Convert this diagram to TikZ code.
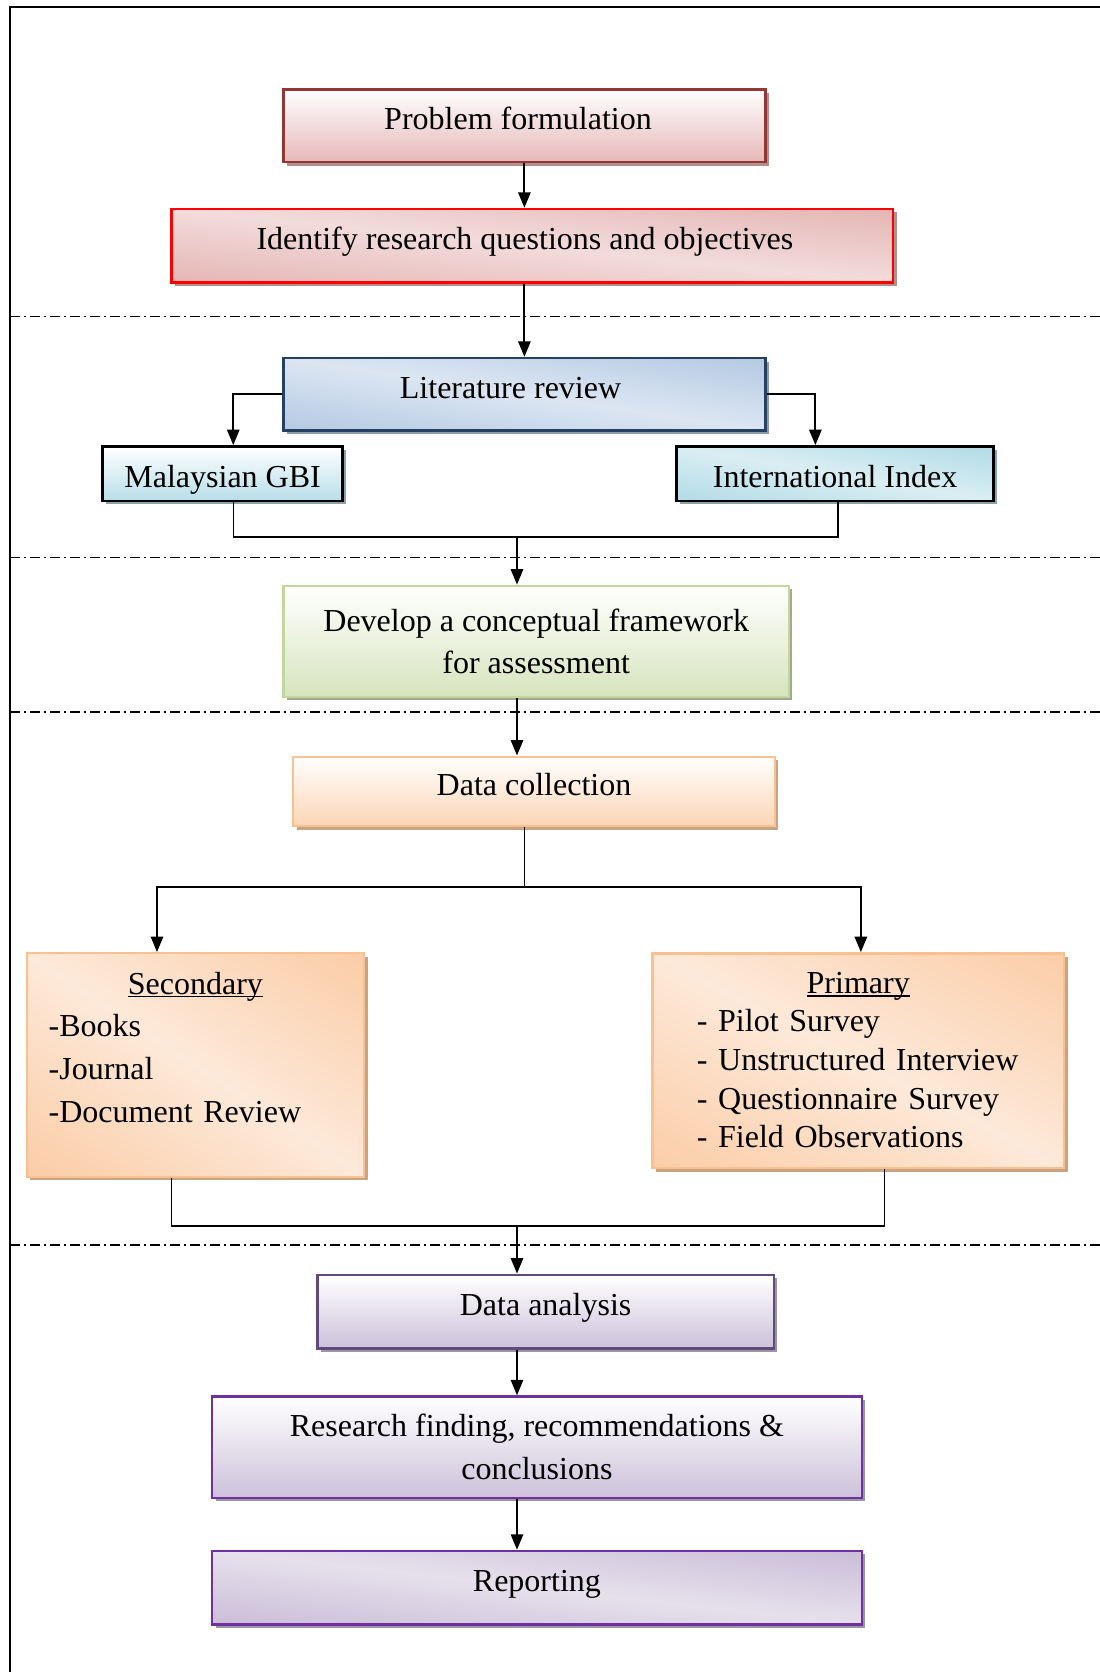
\documentclass[tikz,border=0pt]{standalone}
\usepackage{fontspec}
\setmainfont{Liberation Serif}
\usetikzlibrary{arrows.meta,shadows}
\definecolor{pfred}{HTML}{943634}
\definecolor{pfpink}{HTML}{E5B8B7}
\definecolor{pfshd}{HTML}{B38E8D}
\definecolor{rqred}{HTML}{FF0000}
\definecolor{rqdark}{HTML}{D99694}
\definecolor{rqlight}{HTML}{F2DCDB}
\definecolor{lrblue}{HTML}{254061}
\definecolor{lrdark}{HTML}{95B3D7}
\definecolor{lrlight}{HTML}{DCE6F2}
\definecolor{lrshd}{HTML}{8C9AAB}
\definecolor{ixpale}{HTML}{B7DEE8}
\definecolor{ixdark}{HTML}{93CDDD}
\definecolor{ixlight}{HTML}{DAEEF3}
\definecolor{ixshd}{HTML}{8CA2A9}
\definecolor{cfgreen}{HTML}{C3D69B}
\definecolor{cfpale}{HTML}{D7E4BD}
\definecolor{cfshd}{HTML}{A3A98F}
\definecolor{dcorange}{HTML}{FAC090}
\definecolor{dcpale}{HTML}{FCD5B5}
\definecolor{dclight}{HTML}{FDE9D9}
\definecolor{dcshd}{HTML}{C9A483}
\definecolor{dagrey}{HTML}{604A7B}
\definecolor{dapurple}{HTML}{7030A0}
\definecolor{dapale}{HTML}{CCC1DA}
\definecolor{dadark}{HTML}{B3A2C7}
\definecolor{dalight}{HTML}{E6E0EC}
\definecolor{dashd}{HTML}{9B95A2}
% diagonal two-tone fills
\pgfdeclareverticalshading{rqdiag}{100bp}{color(0bp)=(rqdark); color(50bp)=(rqlight); color(100bp)=(rqdark)}
\pgfdeclareverticalshading{lrdiag}{100bp}{color(0bp)=(lrdark); color(50bp)=(lrlight); color(100bp)=(lrdark)}
\pgfdeclareverticalshading{ixdiag}{100bp}{color(0bp)=(ixdark); color(50bp)=(ixlight); color(100bp)=(ixdark)}
\pgfdeclareverticalshading{dcdiag}{100bp}{color(0bp)=(dcorange); color(50bp)=(dclight); color(100bp)=(dcorange)}
\pgfdeclareverticalshading{dadiag}{100bp}{color(0bp)=(dadark); color(50bp)=(dalight); color(100bp)=(dadark)}
\newcommand{\ulword}[1]{\setbox0\hbox{#1}\rlap{\rule[-1.3pt]{\wd0}{0.45pt}}\box0}

\begin{document}
\begin{tikzpicture}[x=0.375pt,y=-0.375pt,
  box/.style={rectangle,line width=0.9pt,inner sep=2pt,align=center,
    font=\fontsize{12}{16}\selectfont},
  one/.style={text height=8pt,text depth=5pt},
  shd/.style={drop shadow={shadow xshift=1.3pt,shadow yshift=-1.3pt,fill=#1,opacity=1}},
  vgr/.style={top color=white,bottom color=#1},
  dgr/.style 2 args={shade,shading=#1,shading angle=#2},
  pf/.style={box,draw=pfred,vgr=pfpink,shd=pfshd},
  rq/.style={box,draw=rqred,dgr={rqdiag}{-5.8},shd=pfshd},
  lr/.style={box,draw=lrblue,dgr={lrdiag}{-8.6},shd=lrshd},
  idxa/.style={box,draw=black,line width=1.1pt,vgr=ixpale,shd=ixshd},
  idxb/.style={box,draw=black,line width=1.1pt,dgr={ixdiag}{-9.8},shd=ixshd},
  cf/.style={box,draw=cfgreen,vgr=cfpale,shd=cfshd},
  dc/.style={box,draw=dcorange,vgr=dcpale,shd=dcshd},
  src/.style={box,draw=dcorange,shd=dcshd},
  da/.style={box,draw=dagrey,vgr=dapale,shd=dashd},
  fd/.style={box,draw=dapurple,vgr=dapale,shd=dashd},
  rp/.style={box,draw=dapurple,dgr={dadiag}{-6.5},shd=dashd},
  lst/.style={inner sep=0pt,align=left,anchor=north},
  arr/.style={line width=0.75pt,-{Triangle[length=5.8pt,width=4.6pt]}},
  wire/.style={line width=0.55pt},
  zone/.style={line width=0.5pt,dash pattern=on 3.8pt off 1.4pt on 0.9pt off 1.4pt},
  frm/.style={line width=0.8pt}]
\useasboundingbox (0,0) rectangle (1100,1672);

% frame and stage separators
\draw[frm] (1100,7) -- (10,7) -- (10,1672);
\foreach \y in {316.7,557.5,712,1245}
  \draw[zone] (10,\y) -- (1100,\y);

% boxes
\node[pf,one,minimum width=180.7pt,minimum height=27.2pt] (prob) at (524.4,125.8) {Problem formulation\hspace*{4.8pt}};
\node[rq,one,minimum width=270.6pt,minimum height=27.6pt] (ques) at (532.4,245.8) {Identify research questions and objectives\hspace*{5.6pt}};
\node[lr,one,minimum width=180.7pt,minimum height=27.2pt] (lit) at (524.4,394.3) {Literature review\hspace*{10.4pt}};
\node[idxa,text height=10pt,text depth=0pt,minimum width=90.2pt,minimum height=20.4pt] (gbi) at (222.6,473.8) {Malaysian GBI};
\node[idxb,text height=10pt,text depth=0pt,minimum width=118.7pt,minimum height=20.4pt] (intl) at (835.1,473.8) {International Index};
\node[cf,minimum width=189.5pt,minimum height=41.6pt] (frame) at (536.2,641.3) {Develop a conceptual framework\\for assessment};
\node[dc,one,minimum width=180.7pt,minimum height=26pt] (coll) at (534,791.4) {Data collection};
\node[src,dgr={dcdiag}{-33.5},minimum width=126.5pt,minimum height=83.8pt] (sec) at (195.4,1065) {};
\node[src,dgr={dcdiag}{-27.6},minimum width=154.4pt,minimum height=80.6pt] (prim) at (858.2,1060.8) {};
\node[da,one,minimum width=171.1pt,minimum height=27.6pt] (anal) at (545.6,1311.6) {Data analysis};
\node[fd,minimum width=243.6pt,minimum height=38pt] (find) at (536.9,1447.2) {Research finding, recommendations \&\\conclusions};
\node[rp,one,minimum width=243.6pt,minimum height=27.6pt] (rep) at (536.9,1587.8) {Reporting};

% source lists
\node[lst,text width=110pt,font=\fontsize{12}{16}\selectfont] (sectxt) at ([yshift=-7.2pt]sec.north)
  {\hfill\ulword{Secondary}\hfill\null\\-Books\\-Journal\\-Document Review};
\node[lst,text width=121pt,font=\fontsize{12}{14.5}\selectfont] (primtxt) at ([yshift=-7.2pt]prim.north)
  {\hfill\ulword{Primary}\hfill\null\\- Pilot Survey\\- Unstructured Interview\\- Questionnaire Survey\\- Field Observations};

% junctions
\coordinate (jn1) at (517,537.2);
\coordinate (sp) at (524.5,887);
\coordinate (jn2) at (517,1226);

% connectors
\draw[arr] (prob.south) -- (prob.south |- ques.north);
\draw[arr] (lit.north |- ques.south) -- (lit.north);
\draw[arr] (lit.west) -| ([xshift=4pt]gbi.north);
\draw[arr] (lit.east) -| ([xshift=-7.4pt]intl.north);
\draw[wire] ([xshift=4pt]gbi.south) |- (jn1) -| ([xshift=1pt]intl.south);
\draw[arr] (jn1) -- (jn1 |- frame.north);
\draw[arr] (frame.south -| jn1) -- (coll.north -| jn1);
\draw[wire] (coll.south -| sp) -- (sp);
\draw[arr] (sp) -| ([xshift=-14.4pt]sec.north);
\draw[arr] (sp) -| ([xshift=1pt]prim.north);
\draw[wire] ([xshift=-8.9pt]sec.south) |- (jn2) -| ([xshift=9.9pt]prim.south);
\draw[arr] (jn2) -- (jn2 |- anal.north);
\draw[arr] (anal.south -| jn2) -- (find.north -| jn2);
\draw[arr] (find.south -| jn2) -- (rep.north -| jn2);
\end{tikzpicture}
\end{document}
